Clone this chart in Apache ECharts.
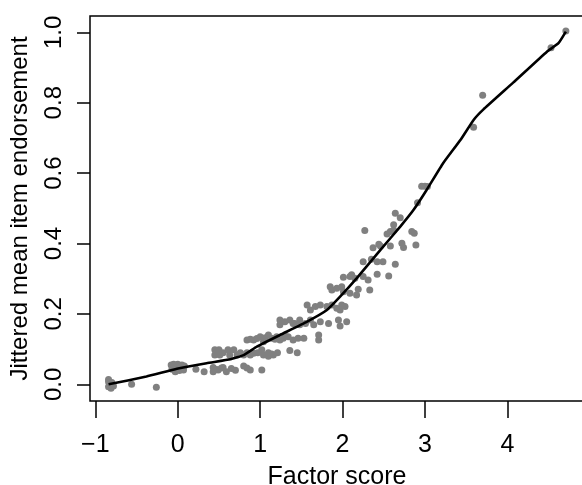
<!DOCTYPE html>
<html>
<head>
<meta charset="utf-8">
<script src="https://cdn.jsdelivr.net/npm/echarts@6/dist/echarts.min.js"></script>
<style>
html,body{margin:0;padding:0;background:#fff;}
#chart{width:582px;height:485px;}
</style>
</head>
<body>
<div id="chart"></div>
<script>
// Scatter points: factor score (x) and jittered mean item endorsement (y)
const pointX = [
  -0.84,-0.84,-0.83,-0.84,-0.81,-0.78,-0.80,-0.56,-0.26,
  -0.08,-0.05,0.00,0.05,0.08,-0.07,-0.03,0.02,0.07,-0.04,0.03,0.22,0.32,
  0.45,0.45,0.50,0.51,0.55,0.61,0.63,0.68,0.72,0.76,0.80,0.84,0.88,0.92,0.97,1.02,1.04,1.10,1.14,1.21,
  0.43,0.43,0.49,0.55,0.59,0.65,0.80,0.84,0.88,1.02,0.47,0.53,0.70,
  0.84,0.92,1.00,1.04,1.10,1.14,1.20,1.24,1.28,1.34,1.40,1.46,1.53,1.71,1.71,1.36,1.45,1.10,1.16,
  0.88,0.96,1.06,1.18,1.30,
  1.24,1.24,1.30,1.36,1.42,1.48,1.55,1.61,1.65,1.73,1.83,1.95,1.97,2.05,1.48,1.40,
  1.57,1.61,1.67,1.73,1.81,1.87,1.93,1.99,2.03,1.97,
  1.85,1.87,1.93,1.99,2.01,2.09,2.17,2.19,2.33,
  2.01,2.09,2.11,2.15,2.25,2.31,2.42,2.56,
  2.25,2.35,2.42,2.49,2.64,
  2.37,2.44,2.46,2.58,2.72,2.74,2.89,
  2.27,2.54,2.58,2.62,2.84,2.87,
  2.62,2.64,2.70,2.91,2.96,3.00,3.03,
  3.59,3.70,4.53,4.71
];
const pointY = [
  0.014,0.007,0.001,-0.007,-0.011,-0.005,0.005,0.000,-0.008,
  0.055,0.057,0.057,0.055,0.052,0.043,0.036,0.039,0.041,0.048,0.046,0.043,0.036,
  0.098,0.083,0.098,0.083,0.090,0.098,0.083,0.098,0.083,0.090,0.083,0.090,0.083,0.088,0.090,0.098,0.083,0.090,0.086,0.090,
  0.048,0.036,0.041,0.048,0.036,0.045,0.052,0.046,0.041,0.041,0.042,0.046,0.040,
  0.126,0.126,0.135,0.121,0.140,0.131,0.135,0.126,0.131,0.135,0.126,0.131,0.131,0.140,0.126,0.096,0.090,0.080,0.083,
  0.128,0.130,0.132,0.128,0.138,
  0.183,0.169,0.178,0.183,0.173,0.183,0.173,0.183,0.169,0.178,0.173,0.183,0.166,0.178,0.169,0.173,
  0.225,0.211,0.221,0.225,0.221,0.225,0.216,0.225,0.221,0.211,
  0.277,0.268,0.273,0.277,0.263,0.259,0.254,0.270,0.268,
  0.304,0.306,0.311,0.301,0.306,0.296,0.313,0.308,
  0.348,0.355,0.348,0.348,0.341,
  0.388,0.398,0.393,0.393,0.401,0.389,0.396,
  0.437,0.427,0.434,0.438,0.434,0.429,
  0.453,0.486,0.473,0.516,0.563,0.563,0.562,
  0.730,0.821,0.956,1.004
];
// Smoothed (loess-like) curve
const curveX = [-0.84,-0.38,-0.01,0.35,0.64,0.80,0.96,1.24,1.57,1.81,1.97,2.17,2.46,2.70,2.86,3.02,3.22,3.43,3.59,3.71,4.07,4.48,4.62,4.71];
const curveY = [0.000,0.022,0.044,0.060,0.071,0.083,0.107,0.140,0.178,0.211,0.249,0.301,0.382,0.448,0.495,0.552,0.628,0.694,0.751,0.781,0.857,0.945,0.969,1.002];
const xTicks = [-1,0,1,2,3,4];
const yTicks = [0,0.2,0.4,0.6,0.8,1.0];

const FONT = '"Liberation Sans", Arial, Helvetica, sans-serif';
const chart = echarts.init(document.getElementById('chart'), null, {renderer:'canvas'});
const scatterData = pointX.map((x,i)=>[x,pointY[i]]);
const curveData = curveX.map((x,i)=>[x,curveY[i]]);

chart.setOption({
  animation:false,
  backgroundColor:'#ffffff',
  grid:{left:90, top:16, width:494, height:385, show:true, borderColor:'#000', borderWidth:1.5, backgroundColor:'transparent', containLabel:false, outerBoundsMode:'none'},
  xAxis:{
    type:'value', min:-1.065, max:4.93,
    name:'Factor score', nameLocation:'middle', nameGap:64,
    nameTextStyle:{fontFamily:FONT, fontSize:25, color:'#000'},
    axisLine:{show:false, onZero:false},
    axisTick:{show:true, inside:false, length:17, customValues:xTicks, lineStyle:{color:'#000', width:1.5}},
    axisLabel:{show:true, customValues:xTicks, margin:32, fontFamily:FONT, fontSize:25, color:'#000',
      formatter:v=>(v<0?'\u2212'+Math.abs(v):String(v))},
    splitLine:{show:false}
  },
  yAxis:{
    type:'value', min:-0.0474, max:1.0463,
    name:'Jittered mean item endorsement', nameLocation:'middle', nameGap:58, nameRotate:90,
    nameTextStyle:{fontFamily:FONT, fontSize:24, color:'#000'},
    axisLine:{show:false, onZero:false},
    axisTick:{show:true, inside:false, length:13, customValues:yTicks, lineStyle:{color:'#000', width:1.5}},
    axisLabel:{show:true, customValues:yTicks, rotate:90, margin:24, fontFamily:FONT, fontSize:24, color:'#000',
      formatter:v=>Number(v).toFixed(1)},
    splitLine:{show:false}
  },
  series:[
    {type:'scatter', data:scatterData, symbol:'circle', symbolSize:7, itemStyle:{color:'#808080', opacity:1}, z:2},
    {type:'line', data:curveData, smooth:0.12, showSymbol:false, symbol:'none', lineStyle:{color:'#000', width:2.6}, z:3}
  ]
});
</script>
</body>
</html>
